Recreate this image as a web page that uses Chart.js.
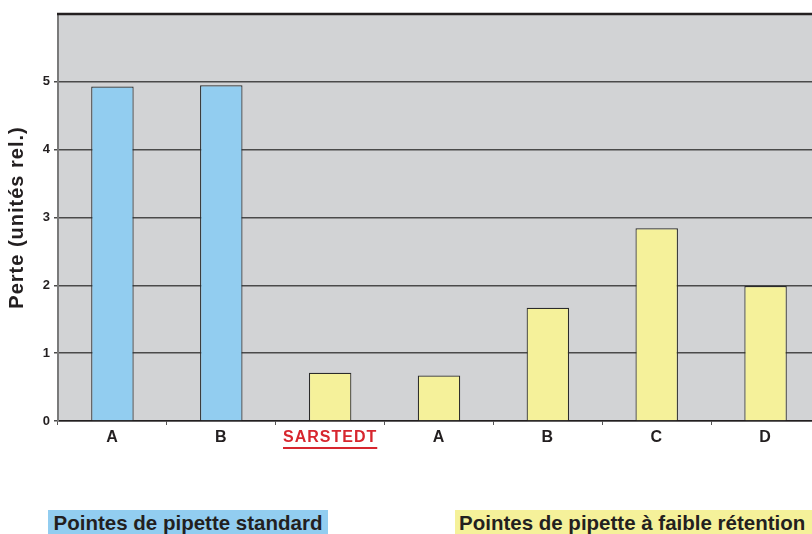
<!DOCTYPE html>
<html><head><meta charset="utf-8">
<script src="https://cdn.jsdelivr.net/npm/chart.js@4.4.1/dist/chart.umd.min.js"></script>
<style>
html,body{margin:0;padding:0;background:#fff;overflow:hidden;width:812px;height:534px;}
#wrap{position:absolute;left:0;top:0;width:820px;height:460px;}
.lab{position:absolute;top:510px;height:24px;line-height:25px;font-family:"Liberation Sans",Arial,sans-serif;font-weight:bold;font-size:20.5px;color:#231f20;white-space:nowrap;}
#l1{left:48px;width:280px;background:#92cdf0;text-align:center;}
#l2{left:455px;width:370px;background:#f5f19a;padding-left:4px;}
</style></head>
<body>
<div id="wrap"><canvas id="c"></canvas></div>
<div class="lab" id="l1">Pointes de pipette standard</div>
<div class="lab" id="l2">Pointes de pipette à faible rétention</div>
<script>
const categories = ["A","B","SARSTEDT","A","B","C","D"];
const values = [4.93, 4.95, 0.71, 0.67, 1.67, 2.84, 1.99];
const barColors = ["#92cdf0","#92cdf0","#f5f19a","#f5f19a","#f5f19a","#f5f19a","#f5f19a"];
const yTicks = [0,1,2,3,4,5,6];
const yTitle = "Perte (unités rel.)";
const highlightIndex = 2;
const FONT = '"Liberation Sans", Arial, sans-serif';

const bgPlugin = {
  id:'bg',
  beforeDraw(chart){
    const {ctx, chartArea:a} = chart;
    ctx.save(); ctx.fillStyle='#d2d3d5';
    ctx.fillRect(a.left,a.top,a.right-a.left,a.bottom-a.top);
    ctx.restore();
    ctx.letterSpacing='1px';
  },
  beforeDatasetsDraw(chart){
    chart.ctx.letterSpacing='0px';
  },
  afterDraw(chart){
    const {ctx, chartArea:a} = chart;
    ctx.save();
    ctx.letterSpacing='0px';
    ctx.strokeStyle='#231f20'; ctx.lineWidth=2.5;
    ctx.beginPath(); ctx.moveTo(a.left-1,a.top); ctx.lineTo(a.right,a.top); ctx.stroke();
    const xs = chart.scales.x;
    const px = xs.getPixelForTick(highlightIndex);
    ctx.font='bold 16px ' + FONT;
    const w = ctx.measureText(categories[highlightIndex]).width + categories[highlightIndex].length;
    ctx.strokeStyle='#d7262e'; ctx.lineWidth=2;
    ctx.beginPath(); ctx.moveTo(px-w/2,448); ctx.lineTo(px+w/2,448); ctx.stroke();
    ctx.restore();
  }
};

new Chart(document.getElementById('c'),{
  type:'bar',
  data:{labels:categories,datasets:[{data:values,backgroundColor:barColors,borderColor:'#2b2b2b',borderWidth:1.2,barPercentage:0.39,categoryPercentage:1}]},
  options:{
    responsive:true,maintainAspectRatio:false,animation:false,
    layout:{padding:{top:14,left:0,right:0,bottom:0}},
    plugins:{legend:{display:false},tooltip:{enabled:false}},
    scales:{
      x:{
        offset:true,
        afterFit(s){s.height=39;},
        grid:{offset:true,drawOnChartArea:false,drawTicks:true,tickLength:4,color:'#555',lineWidth:1},
        border:{color:'#231f20',width:1.5},
        ticks:{padding:3,font:{family:FONT,weight:'bold',size:16},
          color:(c)=>c.index===highlightIndex?'#d7262e':'#231f20'}
      },
      y:{
        min:0,max:6,
        afterFit(s){s.width=58;},
        afterBuildTicks(s){s.ticks=yTicks.map(v=>({value:v}));},
        grid:{color:(c)=>c.tick&&c.tick.value===6?'rgba(0,0,0,0)':'#4a4a4a',lineWidth:1.5,tickLength:4},
        border:{color:'#7a7a7a',width:2},
        ticks:{padding:3,font:{family:FONT,weight:'bold',size:13},color:'#231f20',
          callback:(v)=>v===6?'':v},
        title:{display:true,text:yTitle,color:'#231f20',font:{family:FONT,weight:'bold',size:20},padding:{top:5,bottom:0}}
      }
    }
  },
  plugins:[bgPlugin]
});
</script>
</body></html>
